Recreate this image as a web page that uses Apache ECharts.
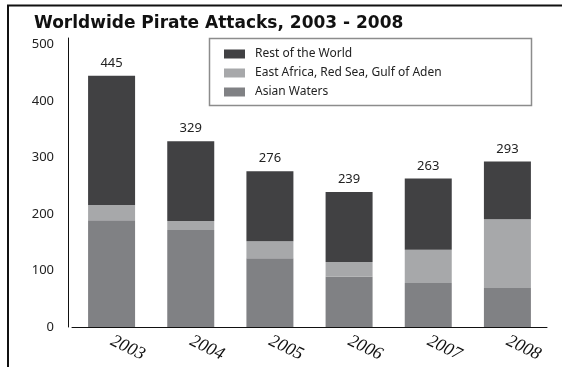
<!DOCTYPE html>
<html>
<head>
<meta charset="utf-8">
<script src="https://cdn.jsdelivr.net/npm/echarts@6/dist/echarts.min.js"></script>
<style>
  html, body { margin: 0; padding: 0; background: #fff; }
  #chart { width: 562px; height: 367px; }
</style>
</head>
<body>
<div id="chart"></div>
<script>
// data
const years = ['2003', '2004', '2005', '2006', '2007', '2008'];
const asianWaters = [189, 172, 122, 89, 78, 69];
const eastAfrica = [27, 16, 30, 26, 59, 122];
const restOfWorld = [229, 141, 124, 124, 126, 102];
const totals = [445, 329, 276, 239, 263, 293];
const yTicks = [0, 100, 200, 300, 400, 500];

const chart = echarts.init(document.getElementById('chart'));

const numFont = { fontFamily: 'Noto Sans', fontSize: 13, color: '#222' };

chart.setOption({
  animation: false,
  title: {
    text: 'Worldwide Pirate Attacks, 2003 - 2008',
    left: 29,
    top: 10,
    textStyle: { fontFamily: 'DejaVu Sans', fontWeight: 'bold', fontSize: 17, color: '#111' }
  },
  graphic: [
    // frame lines top and left
    { type: 'line', shape: { x1: 7, y1: 5.5, x2: 562, y2: 5.5 }, style: { stroke: '#111', lineWidth: 2 } },
    { type: 'line', shape: { x1: 8, y1: 5, x2: 8, y2: 367 }, style: { stroke: '#111', lineWidth: 2 } },
    // legend box
    { type: 'rect', shape: { x: 209.5, y: 38.5, width: 322, height: 67 }, style: { fill: 'none', stroke: '#8c8c8c', lineWidth: 1.5 } }
  ],
  legend: {
    data: ['Rest of the World', 'East Africa, Red Sea, Gulf of Aden', 'Asian Waters'],
    orient: 'vertical',
    left: 219,
    top: 41,
    itemWidth: 21,
    itemHeight: 9,
    itemGap: 3,
    itemStyle: { borderWidth: 0 },
    textStyle: { fontFamily: 'Noto Sans', fontSize: 12, color: '#222', lineHeight: 16, padding: [0, 0, 0, 5] },
    icon: 'rect'
  },
  grid: { left: 72, right: 15, top: 38, bottom: 40 },
  xAxis: {
    type: 'category',
    data: years,
    axisLine: { lineStyle: { color: '#111', width: 1 } },
    axisTick: { show: false },
    axisLabel: {
      rotate: -26,
      margin: 13,
      fontFamily: 'Liberation Serif',
      fontStyle: 'italic',
      fontSize: 18,
      color: '#111'
    }
  },
  yAxis: {
    type: 'value',
    min: 0,
    max: 512,
    interval: 100,
    offset: 4,
    axisLine: { show: true, lineStyle: { color: '#111', width: 1 } },
    axisTick: { show: false },
    splitLine: { show: false },
    axisLabel: Object.assign({
      margin: 14,
      padding: [0, 0, 10, 0],
      formatter: v => (yTicks.indexOf(v) >= 0 ? String(v) : '')
    }, numFont)
  },
  series: [
    {
      name: 'Asian Waters',
      type: 'bar',
      stack: 'all',
      barWidth: 47,
      data: asianWaters,
      itemStyle: { color: '#808184' }
    },
    {
      name: 'East Africa, Red Sea, Gulf of Aden',
      type: 'bar',
      stack: 'all',
      data: eastAfrica,
      itemStyle: { color: '#a7a8aa' }
    },
    {
      name: 'Rest of the World',
      type: 'bar',
      stack: 'all',
      data: restOfWorld,
      itemStyle: { color: '#414143' },
      label: Object.assign({
        show: true,
        position: 'top',
        distance: 6,
        formatter: p => String(totals[p.dataIndex])
      }, numFont)
    }
  ]
});
</script>
</body>
</html>
